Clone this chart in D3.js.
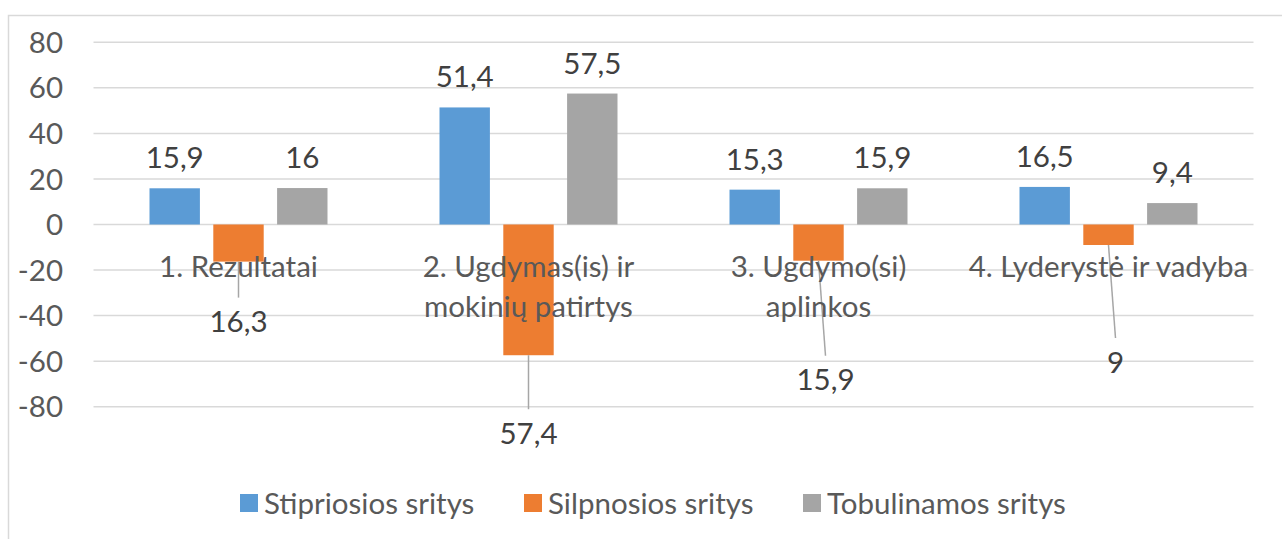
<!DOCTYPE html>
<html>
<head>
<meta charset="utf-8">
<script src="https://cdn.jsdelivr.net/npm/d3@7"></script>
<style>
  body { margin: 0; background: #fff; }
  svg text { font-family: Lato, "Open Sans", sans-serif; font-size: 29.5px; }
</style>
</head>
<body>
<svg id="chart" width="1282" height="539"></svg>
<script>
// Chart data
var categories = [
  ["1. Rezultatai"],
  ["2. Ugdymas(is) ir", "mokinių patirtys"],
  ["3. Ugdymo(si)", "aplinkos"],
  ["4. Lyderystė ir vadyba"]
];
var seriesNames = ["Stipriosios sritys", "Silpnosios sritys", "Tobulinamos sritys"];
var strong = [15.9, 51.4, 15.3, 16.5];
var weak = [-16.3, -57.4, -15.9, -9];
var improve = [16, 57.5, 15.9, 9.4];
var yTicks = [80, 60, 40, 20, 0, -20, -40, -60, -80];

var colors = ["#5B9BD5", "#ED7D31", "#A5A5A5"];
// manual offsets of the weak-series labels (moved by hand in the original)
var weakLabelNudge = [[0, 60], [0, 78], [7, 119], [7, 117]];

var svg = d3.select("svg"),
    width = +svg.attr("width"),
    height = +svg.attr("height");

// chart area border
svg.append("rect")
    .attr("x", 8.5).attr("y", 15.5)
    .attr("width", 1290).attr("height", 600)
    .attr("fill", "none")
    .attr("stroke", "#d9d9d9")
    .attr("stroke-width", 1.5);

var y = d3.scaleLinear()
    .domain([-80, 80])
    .range([406.7, 42.3]);

var x0 = d3.scaleBand()
    .domain(d3.range(categories.length))
    .range([93.5, 1253.5]);

var x1 = d3.scaleBand()
    .domain(d3.range(seriesNames.length))
    .range([56, 234])
    .paddingInner(0.21);

// gridlines + tick labels
var grid = svg.append("g");
grid.selectAll("line")
  .data(yTicks)
  .enter().append("line")
    .attr("x1", x0.range()[0])
    .attr("x2", x0.range()[1])
    .attr("y1", function(d) { return y(d); })
    .attr("y2", function(d) { return y(d); })
    .attr("stroke", "#d9d9d9")
    .attr("stroke-width", 1.5);

grid.selectAll("text")
  .data(yTicks)
  .enter().append("text")
    .attr("x", 63)
    .attr("y", function(d) { return y(d); })
    .attr("dy", "0.36em")
    .attr("text-anchor", "end")
    .attr("fill", "#595959")
    .text(function(d) { return d; });

var series = [strong, weak, improve];
var rows = [];
series.forEach(function(vals, s) {
  vals.forEach(function(v, c) { rows.push({s: s, c: c, v: v}); });
});

function barX(d) { return x0(d.c) + x1(d.s); }
function fmt(v) { return String(Math.abs(v)).replace(".", ","); }

// bars
svg.append("g").selectAll("rect")
  .data(rows)
  .enter().append("rect")
    .attr("x", barX)
    .attr("width", x1.bandwidth())
    .attr("y", function(d) { return y(Math.max(0, d.v)); })
    .attr("height", function(d) { return Math.abs(y(d.v) - y(0)); })
    .attr("fill", function(d) { return colors[d.s]; });

// leader lines for the weak series
var weakRows = rows.filter(function(d) { return d.s == 1; });
svg.append("g").selectAll("line")
  .data(weakRows)
  .enter().append("line")
    .attr("x1", function(d) { return barX(d) + x1.bandwidth() / 2; })
    .attr("y1", function(d) { return y(d.v); })
    .attr("x2", function(d) { return barX(d) + x1.bandwidth() / 2 + weakLabelNudge[d.c][0]; })
    .attr("y2", function(d) { return y(d.v) + weakLabelNudge[d.c][1] - 24; })
    .attr("stroke", "#a6a6a6")
    .attr("stroke-width", 1.5);

// category labels (drawn over the bars)
var cat = svg.append("g").selectAll("text")
  .data(categories)
  .enter().append("text")
    .attr("x", function(d, i) { return x0(i) + x0.bandwidth() / 2; })
    .attr("y", y(0) + 52)
    .attr("text-anchor", "middle")
    .attr("fill", "#595959");
cat.selectAll("tspan")
  .data(function(d) { return d; })
  .enter().append("tspan")
    .attr("x", function() { return d3.select(this.parentNode).attr("x"); })
    .attr("dy", function(d, i) { return i == 0 ? 0 : 40; })
    .text(function(d) { return d; });

// data labels
svg.append("g").selectAll("text")
  .data(rows)
  .enter().append("text")
    .attr("x", function(d) {
      var cx = barX(d) + x1.bandwidth() / 2;
      return d.s == 1 ? cx + weakLabelNudge[d.c][0] : cx;
    })
    .attr("y", function(d) {
      return d.s == 1 ? y(d.v) + weakLabelNudge[d.c][1] : y(d.v) - 20;
    })
    .attr("dy", function(d) { return d.s == 1 ? "0.36em" : 0; })
    .attr("text-anchor", "middle")
    .attr("fill", "#404040")
    .text(function(d) { return fmt(d.v); });

// legend
var legendX = [240, 524, 803];
var legend = svg.append("g").selectAll("g")
  .data(seriesNames)
  .enter().append("g")
    .attr("transform", function(d, i) { return "translate(" + legendX[i] + ",494)"; });
legend.append("rect")
    .attr("width", 18).attr("height", 18)
    .attr("fill", function(d, i) { return colors[i]; });
legend.append("text")
    .attr("x", 24)
    .attr("y", 9)
    .attr("dy", "0.36em")
    .attr("fill", "#595959")
    .text(function(d) { return d; });
</script>
</body>
</html>
